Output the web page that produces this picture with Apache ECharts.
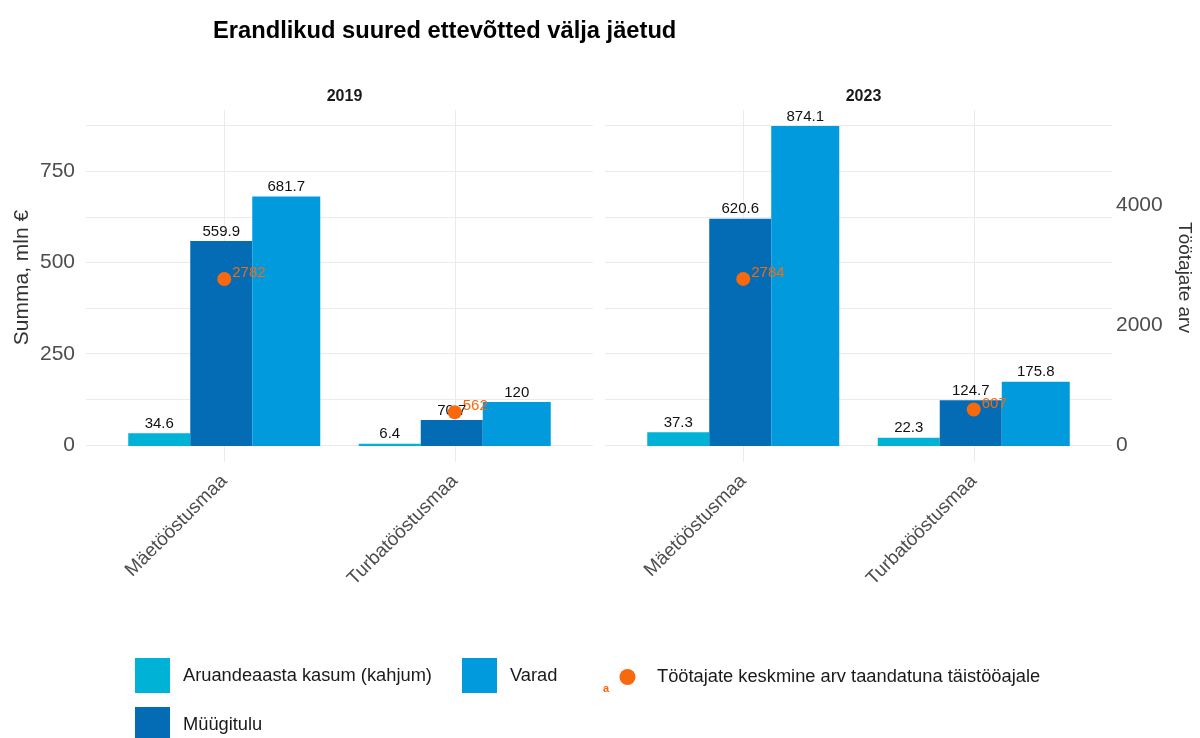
<!DOCTYPE html>
<html>
<head>
<meta charset="utf-8">
<script src="https://cdn.jsdelivr.net/npm/echarts@6/dist/echarts.min.js"></script>
<style>
  html, body { margin: 0; padding: 0; background: #fff; }
  #chart { width: 1200px; height: 738px; }
</style>
</head>
<body>
<div id="chart"></div>
<script>
// andmed
const categories = ['Mäetööstusmaa', 'Turbatööstusmaa']
const years = ['2019', '2023']
const kasum2019 = [34.6, 6.4]
const kasum2023 = [37.3, 22.3]
const myyk2019 = [559.9, 70.7]
const myyk2023 = [620.6, 124.7]
const varad2019 = [681.7, 120]
const varad2023 = [874.1, 175.8]
const tootajad2019 = [2782, 562]
const tootajad2023 = [2784, 607]
const leftTicks = [0, 250, 500, 750]
const rightTicks = [0, 2000, 4000]

const FONT = '"Liberation Sans", Arial, sans-serif'
const C_KASUM = '#00B2D6'
const C_MYYK = '#046CB4'
const C_VARAD = '#009ADD'
const C_PUNKT = '#F8690E'
const GRIDLINE = '#EBEBEB'

// teljepiirid nagu ggplot (5% laiendus)
const dataMax = Math.max(...varad2019, ...varad2023)
const yHi = dataMax * 1.05
const yLo = -dataMax * 0.05
const k = 6.1 // teise telje suhe

const chart = echarts.init(document.getElementById('chart'))

const barLabel = {
  show: true,
  position: 'top',
  distance: 2,
  color: '#111',
  fontSize: 15,
  fontFamily: FONT
}

function panelSeries (barGrid, kasum, myyk, varad, tootajad) {
  const xi = barGrid
  const yi = barGrid === 1 ? 1 : 5
  return [
    {
      name: 'Aruandeaasta kasum (kahjum)',
      type: 'bar',
      xAxisIndex: xi,
      yAxisIndex: yi,
      data: kasum,
      barWidth: 62,
      barGap: '0%',
      itemStyle: { color: C_KASUM },
      label: barLabel
    },
    {
      name: 'Müügitulu',
      type: 'bar',
      xAxisIndex: xi,
      yAxisIndex: yi,
      data: myyk,
      barWidth: 62,
      barGap: '0%',
      itemStyle: { color: C_MYYK },
      label: barLabel
    },
    {
      name: 'Varad',
      type: 'bar',
      xAxisIndex: xi,
      yAxisIndex: yi,
      data: varad,
      barWidth: 68,
      barGap: '0%',
      itemStyle: { color: C_VARAD },
      label: barLabel
    },
    {
      name: 'Töötajate keskmine arv taandatuna täistööajale',
      type: 'scatter',
      xAxisIndex: xi,
      yAxisIndex: yi + 1,
      data: tootajad,
      symbol: 'circle',
      symbolSize: 14,
      z: 5,
      itemStyle: { color: C_PUNKT, opacity: 1 },
      label: {
        show: true,
        position: 'right',
        distance: 1,
        offset: [0, -6],
        color: C_PUNKT,
        fontSize: 15,
        fontFamily: FONT
      },
      // vertikaalsed abijooned kategooria keskel
      markLine: {
        silent: true,
        symbol: 'none',
        z: 1,
        label: { show: false },
        lineStyle: { color: GRIDLINE, width: 1, type: 'solid' },
        data: categories.map(c => ({ xAxis: c }))
      }
    }
  ]
}

const catAxis = (grid) => ({
  type: 'category',
  gridIndex: grid,
  data: categories,
  axisLine: { show: false, onZero: true },
  axisTick: { show: false },
  splitLine: { show: false },
  axisLabel: {
    rotate: 45,
    margin: 16,
    color: '#4D4D4D',
    fontSize: 19,
    fontFamily: FONT
  }
})

const hiddenAxis = (grid, min, max) => ({
  type: 'value',
  gridIndex: grid,
  min: min,
  max: max,
  show: false,
  splitLine: { show: false }
})

const legendBase = {
  orient: 'horizontal',
  padding: 0,
  itemWidth: 35,
  itemHeight: 35,
  icon: 'rect',
  textStyle: { fontSize: 18.3, color: '#1A1A1A', fontFamily: FONT, padding: [3, 0, 0, 8] }
}

const option = {
  backgroundColor: '#fff',
  animation: false,
  textStyle: { fontFamily: FONT },
  title: [
    {
      text: 'Erandlikud suured ettevõtted välja jäetud',
      left: 208,
      top: 14,
      textStyle: { fontSize: 23.7, fontWeight: 'bold', color: '#000', fontFamily: FONT }
    },
    {
      text: years[0],
      left: 339.5,
      top: 84,
      textAlign: 'center',
      textStyle: { fontSize: 16, fontWeight: 'bold', color: '#1A1A1A', fontFamily: FONT }
    },
    {
      text: years[1],
      left: 858.5,
      top: 84,
      textAlign: 'center',
      textStyle: { fontSize: 16, fontWeight: 'bold', color: '#1A1A1A', fontFamily: FONT }
    }
  ],
  legend: [
    Object.assign({}, legendBase, { left: 135, top: 658, data: ['Aruandeaasta kasum (kahjum)'] }),
    Object.assign({}, legendBase, { left: 135, top: 707, data: ['Müügitulu'] }),
    Object.assign({}, legendBase, { left: 462, top: 658, data: ['Varad'] }),
    Object.assign({}, legendBase, {
      left: 619.5,
      top: 668,
      itemHeight: 16,
      icon: 'circle',
      textStyle: Object.assign({}, legendBase.textStyle, { padding: [1, 0, 0, 7] }),
      data: ['Töötajate keskmine arv taandatuna täistööajale']
    })
  ],
  graphic: [
    {
      type: 'text',
      left: 603,
      top: 683,
      style: { text: 'a', fill: C_PUNKT, fontSize: 11, fontFamily: FONT, fontWeight: 'bold' }
    }
  ],
  grid: [
    { left: 86, width: 507, top: 110, bottom: 293 },
    { left: 109, width: 461, top: 110, bottom: 276 },
    { left: 605, width: 507, top: 110, bottom: 293 },
    { left: 628, width: 461, top: 110, bottom: 276 }
  ],
  xAxis: [
    { type: 'category', gridIndex: 0, data: categories, show: false },
    catAxis(1),
    { type: 'category', gridIndex: 2, data: categories, show: false },
    catAxis(3)
  ],
  yAxis: [
    {
      type: 'value',
      gridIndex: 0,
      position: 'left',
      min: 0,
      max: yHi,
      interval: 125,
      name: 'Summa, mln €',
      nameLocation: 'middle',
      nameGap: 53,
      nameTextStyle: { fontSize: 21, color: '#333', fontFamily: FONT },
      axisLine: { show: false },
      axisTick: { show: false },
      axisLabel: {
        margin: 11,
        color: '#4D4D4D',
        fontSize: 21,
        fontFamily: FONT,
        showMaxLabel: false,
        formatter: v => (leftTicks.includes(v) ? String(v) : '')
      },
      splitLine: { show: true, showMaxLine: false, lineStyle: { color: GRIDLINE, width: 1 } }
    },
    hiddenAxis(1, yLo, yHi),
    hiddenAxis(1, yLo * k, yHi * k),
    {
      type: 'value',
      gridIndex: 2,
      position: 'left',
      min: 0,
      max: yHi,
      interval: 125,
      axisLine: { show: false },
      axisTick: { show: false },
      axisLabel: { show: false },
      splitLine: { show: true, showMaxLine: false, lineStyle: { color: GRIDLINE, width: 1 } }
    },
    {
      type: 'value',
      gridIndex: 2,
      position: 'right',
      min: 0,
      max: yHi * k,
      interval: 2000,
      name: 'Töötajate arv',
      nameLocation: 'middle',
      nameRotate: -90,
      nameGap: 63,
      nameTextStyle: { fontSize: 19, color: '#333', fontFamily: FONT },
      axisLine: { show: false },
      axisTick: { show: false },
      axisLabel: {
        margin: 4,
        color: '#4D4D4D',
        fontSize: 21,
        fontFamily: FONT,
        showMaxLabel: false,
        formatter: v => (rightTicks.includes(v) ? String(v) : '')
      },
      splitLine: { show: false }
    },
    hiddenAxis(3, yLo, yHi),
    hiddenAxis(3, yLo * k, yHi * k)
  ],
  series: [
    ...panelSeries(1, kasum2019, myyk2019, varad2019, tootajad2019),
    ...panelSeries(3, kasum2023, myyk2023, varad2023, tootajad2023)
  ]
}

chart.setOption(option)
</script>
</body>
</html>
